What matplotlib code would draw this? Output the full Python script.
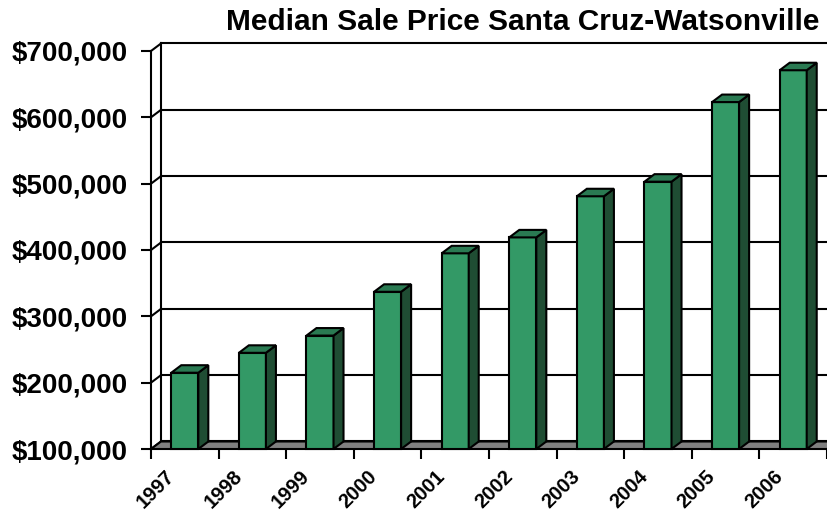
import matplotlib
matplotlib.use("Agg")
import matplotlib.pyplot as plt
import matplotlib.transforms as mtransforms
from matplotlib.patches import Polygon

plt.rcParams['font.family'] = ['Liberation Sans', 'DejaVu Sans']
plt.rcParams['font.weight'] = 'bold'

# data
years = ['1997', '1998', '1999', '2000', '2001', '2002', '2003', '2004', '2005', '2006']
prices = [215000, 245000, 271000, 337000, 395000, 419000, 481000, 503000, 623000, 671000]
y_ticks = [100000, 200000, 300000, 400000, 500000, 600000, 700000]
y_labels = ['$100,000', '$200,000', '$300,000', '$400,000', '$500,000', '$600,000', '$700,000']

fig = plt.figure(figsize=(8.28, 5.14), dpi=100)
ax = fig.add_axes([151 / 828, 65 / 514, 676 / 828, 398 / 514])
ax.set_xlim(0, len(years))
ax.set_ylim(y_ticks[0], y_ticks[-1])
for s in ax.spines.values():
    s.set_visible(False)

# depth offset of the fake 3D (data units)
dx = 10 / 67.6
dy = 7.5 / 66.3 * 100000
lw = 1.5
n = len(years)
ymin, ymax = y_ticks[0], y_ticks[-1]

# back wall grid + left wall
for t in y_ticks:
    ax.plot([dx, n + dx + 1], [t + dy, t + dy], color='black', lw=lw, clip_on=False, zorder=1)
    ax.plot([0, dx], [t, t + dy], color='black', lw=lw, clip_on=False, zorder=1)
ax.plot([0, 0], [ymin, ymax], color='black', lw=lw, clip_on=False, zorder=1)
ax.plot([dx, dx], [ymin + dy, ymax + dy], color='black', lw=lw, clip_on=False, zorder=1)

# floor
floor = Polygon([(0, ymin), (n, ymin), (n + dx, ymin + dy), (dx, ymin + dy)],
                closed=True, facecolor='#808080', edgecolor='black', lw=lw,
                clip_on=False, zorder=2)
ax.add_patch(floor)

# bars
front_c = '#339966'
side_c = '#1f4d33'
top_c = '#2a7a52'
w = 0.4
for i, v in enumerate(prices):
    x0 = i + 0.5 - w / 2
    x1 = x0 + w
    ax.bar(i + 0.5, v - ymin, bottom=ymin, width=w, color=front_c,
           edgecolor='black', lw=lw, zorder=3, clip_on=False)
    side = Polygon([(x1, ymin), (x1 + dx, ymin + dy), (x1 + dx, v + dy), (x1, v)],
                   closed=True, facecolor=side_c, edgecolor='black', lw=lw,
                   clip_on=False, zorder=3)
    top = Polygon([(x0, v), (x1, v), (x1 + dx, v + dy), (x0 + dx, v + dy)],
                  closed=True, facecolor=top_c, edgecolor='black', lw=lw,
                  clip_on=False, zorder=3)
    ax.add_patch(side)
    ax.add_patch(top)

# axes ticks and labels
ax.set_yticks(y_ticks, y_labels)
ax.tick_params(axis='y', length=7, width=lw, pad=10, labelsize=20)
ax.set_xticks([i + 0.5 for i in range(n)], years, rotation=45, ha='right',
              rotation_mode='anchor')
ax.set_xticks(range(n + 1), minor=True)
ax.tick_params(axis='x', which='major', length=0, pad=13, labelsize=14.5)
ax.tick_params(axis='x', which='minor', length=7, width=lw)

# nudge the slanted year labels left
shift = mtransforms.ScaledTranslation(-20 / 100, 0, fig.dpi_scale_trans)
for lbl in ax.get_xticklabels():
    lbl.set_transform(lbl.get_transform() + shift)

fig.text(523 / 828, 1 - 22 / 514, 'Median Sale Price Santa Cruz-Watsonville',
         ha='center', va='center', fontsize=21.5, fontweight='bold')

fig.savefig('out.png', dpi=100)
